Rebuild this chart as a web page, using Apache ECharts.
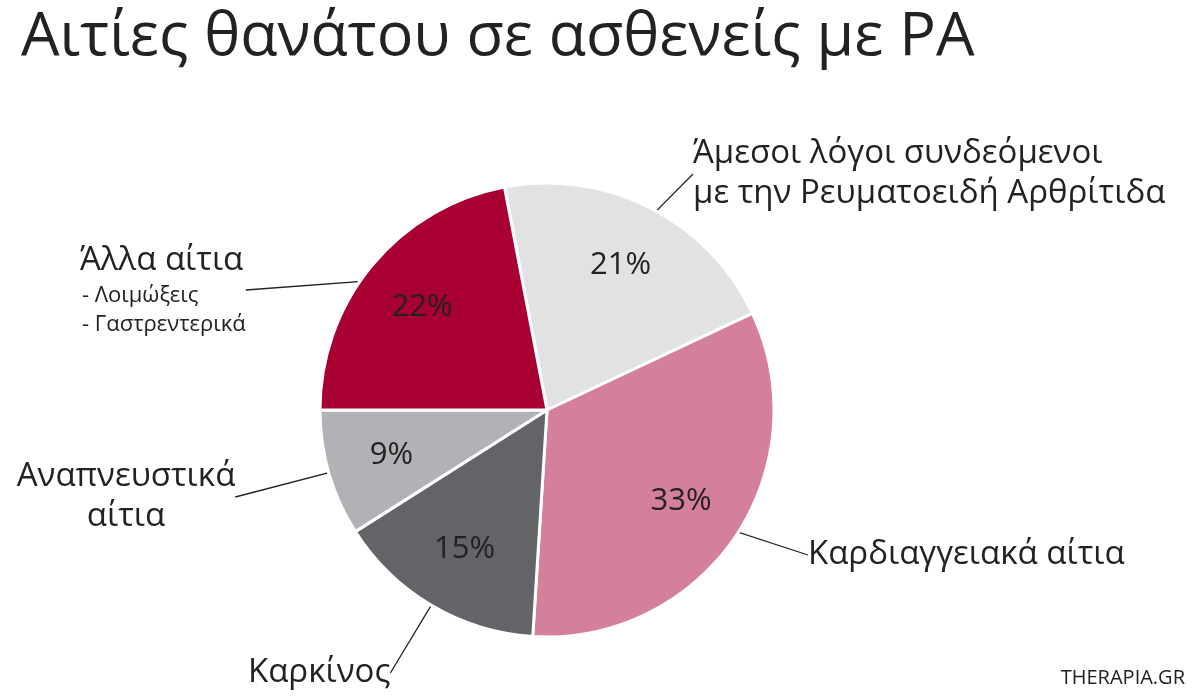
<!DOCTYPE html>
<html><head><meta charset="utf-8">
<script src="https://cdn.jsdelivr.net/npm/echarts@6/dist/echarts.min.js"></script>
<style>html,body{margin:0;padding:0;background:#fff}#c{width:1200px;height:698px}</style>
</head><body><div id="c"></div>
<script>
const categories = ['Άμεσοι λόγοι συνδεόμενοι\nμε την Ρευματοειδή Αρθρίτιδα','Καρδιαγγειακά αίτια','Καρκίνος','Αναπνευστικά\nαίτια','Άλλα αίτια'];
const values = [21,33,15,9,22];
const colors = ['#e1e2e4','#d5809a','#636468','#b1b2b5','#a80033'];
const labelPos = [[693,174,'left'],[808,555,'left'],[248,673,'left'],[126,497,'center'],[80,290,'left']];
const FONT = '"Open Sans", "Noto Sans", sans-serif';
const chart = echarts.init(document.getElementById('c'));
const base = {type:'pie', center:[547,410], startAngle:100.8, clockwise:true, animation:false};
chart.setOption({
  title:{text:'Αιτίες θανάτου σε ασθενείς με ΡΑ', left:16, top:2, textStyle:{fontFamily:FONT,fontSize:61,fontWeight:'normal',color:'#222'}},
  graphic:[{type:'text', right:15, bottom:10, style:{text:'THERAPIA.GR', font:'20px '+FONT, fill:'#222'}}],
  series:[
    Object.assign({}, base, {radius:[0,227], silent:true,
      itemStyle:{borderColor:'#fff',borderWidth:3},
      label:{show:false}, labelLine:{show:false},
      data:values.map((v,i)=>({value:v,name:categories[i],itemStyle:{color:colors[i]}}))}),
    Object.assign({}, base, {radius:[0,318], silent:true,
      itemStyle:{color:'rgba(0,0,0,0)'},
      label:{show:true,position:'inside',formatter:'{c}%',fontFamily:FONT,fontSize:31,color:'#222'},
      labelLine:{show:false},
      data:values.map((v,i)=>({value:v,name:categories[i]}))}),
    Object.assign({}, base, {radius:[0,205], silent:true,
      itemStyle:{color:'rgba(0,0,0,0)'},
      label:{show:true,position:'outside',fontFamily:FONT,fontSize:33,color:'#222',lineHeight:40,
        formatter:p=>p.dataIndex===4?'{a|Άλλα αίτια}\n{b|- Λοιμώξεις}\n{b|- Γαστρεντερικά}':p.name,
        rich:{a:{fontFamily:FONT,fontSize:33,color:'#222',lineHeight:40},b:{fontFamily:FONT,fontSize:22,color:'#222',lineHeight:29,padding:[0,0,0,2]}}},
      labelLine:{show:true,length:15,length2:0,lineStyle:{color:'#222',width:1.3}},
      labelLayout:p=>{const q=labelPos[p.dataIndex];return {x:q[0],y:q[1],align:q[2],verticalAlign:'middle'};},
      data:values.map((v,i)=>({value:v,name:categories[i]}))})
  ]
});
</script></body></html>
